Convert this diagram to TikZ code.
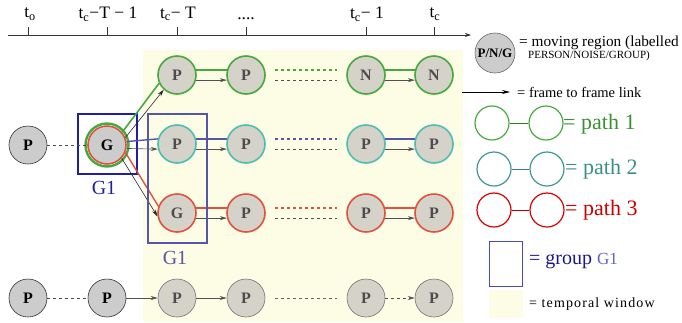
\documentclass[tikz,border=0pt]{standalone}
\usepackage{fontspec}
\setmainfont{Liberation Serif}
\usetikzlibrary{arrows.meta,calc}
\definecolor{win}{HTML}{FDFDE6}
\definecolor{ngray}{HTML}{D5D2CA}
\definecolor{pgreen}{HTML}{44AA3C}
\definecolor{pteal}{HTML}{4DBDB2}
\definecolor{pred}{HTML}{E2503E}
\definecolor{pblue}{HTML}{5555AA}
\definecolor{dblue}{HTML}{1E1EAA}
\definecolor{lnk}{HTML}{505050}
\begin{document}
\begin{tikzpicture}[x=1pt,y=-1pt,
  rn/.style={circle, minimum size=38pt, inner sep=0pt, fill=ngray, line width=1.6pt, font=\fontsize{16}{16}\selectfont\bfseries, text=black!70},
  gn/.style={rn, draw=pgreen},
  tn/.style={rn, draw=pteal},
  redn/.style={rn, draw=pred},
  wn/.style={rn, draw=black!55, line width=0.6pt},
  on/.style={rn, fill=black!20, draw=black!80, line width=0.6pt, text=black},
  lnkarrow/.style={draw=lnk, line width=0.6pt, -{Stealth[length=7pt,width=4pt]}},
  tl/.style={font=\fontsize{17.5}{17.5}\selectfont},
  tick/.style={draw=black!80, line width=0.6pt},
  lg/.style={anchor=west, inner sep=0pt},
  legc/.style={circle, minimum size=34pt, inner sep=0pt, line width=1.2pt}
]
\useasboundingbox (0,0) rectangle (682,322);
% temporal window
\fill[win] (143,50) rectangle (463,322);
% time axis
\coordinate (ax0) at (8,35);
\coordinate (ax1) at (471,35);
\draw[black!80, line width=0.7pt, -{Stealth[length=6pt,width=4pt]}] (ax0) -- (ax1);
\foreach \x/\n in {28/a,107/b,177/c,246/d,366/e,434/f}{
  \coordinate (tk\n) at (\x,27);
  \draw[tick] (tk\n) -- (\x,35);
}
\node[tl] at (30,14) {t\textsubscript{o}};
\node[tl] at (108,14) {t\textsubscript{c}−T − 1};
\node[tl] at (178,14) {t\textsubscript{c}− T};
\node[tl] at (246,19) {....};
\node[tl] at (367,14) {t\textsubscript{c}− 1};
\node[tl] at (435,14) {t\textsubscript{c}};

% row 1 green
\node[gn] (r1a) at (177,75) {P};
\node[gn] (r1b) at (246,75) {P};
\node[gn] (r1c) at (366,75) {N};
\node[gn] (r1d) at (434,75) {N};
% row 2 teal
\node[tn] (r2a) at (177,144) {P};
\node[tn] (r2b) at (246,144) {P};
\node[tn] (r2c) at (366,144) {P};
\node[tn] (r2d) at (434,144) {P};
% row 3 red
\node[redn] (r3a) at (177,213) {G};
\node[redn] (r3b) at (246,213) {P};
\node[redn] (r3c) at (366,213) {P};
\node[redn] (r3d) at (434,213) {P};
% row 4
\node[on] (r4o) at (28,298) {P};
\node[on] (r4p) at (107,298) {P};
\node[wn] (r4a) at (177,298) {P};
\node[wn] (r4b) at (246,298) {P};
\node[wn] (r4c) at (366,298) {P};
\node[wn] (r4d) at (434,298) {P};
% left
\node[on] (pl) at (28,145) {P};
\node[redn, fill=black!20, text=black] (G) at (107,145) {G};
\draw[pgreen, line width=2.4pt] (G.center) circle (21.5);
\draw[dblue, line width=1.5pt] (78,114) rectangle (137,174);
\node[text=dblue, font=\fontsize{20}{20}\selectfont] at (104,188) {G1};
\draw[black!70, dashed, line width=0.7pt] (pl) -- (G);

% row links
\foreach \r/\c/\d in {1/pgreen/pgreen, 2/pblue/pblue, 3/pred/pred}{
  \draw[\c, line width=1.4pt] (r\r a.15) -- (r\r b.165);
  \draw[lnkarrow] (r\r a.-15) -- (r\r b.-165);
  \draw[\c, line width=1.4pt] (r\r c.15) -- (r\r d.165);
  \draw[lnkarrow] (r\r c.-15) -- (r\r d.-165);
  \draw[\d, dashed, line width=1.3pt, shorten <=10pt, shorten >=10pt] (r\r b.15) -- (r\r c.165);
  \draw[lnk, dashed, line width=0.7pt, shorten <=10pt, shorten >=10pt] (r\r b.-15) -- (r\r c.-165);
}
% from G
\draw[pgreen, line width=1.6pt] (G.40) -- (r1a.205);
\draw[lnkarrow, draw=black!85] (G.22) -- (r1a.228);
\draw[pblue, line width=1.4pt] (G.10) -- (r2a.165);
\draw[lnkarrow] (G.-10) -- (r2a.-165);
\draw[pred, line width=1.4pt] (G.-22) -- (r3a.160);
\draw[lnkarrow, draw=black!85] (G.-42) -- (r3a.190);
% group box 2
\draw[pblue, line width=1.4pt] (148,114) rectangle (207,243);
\node[text=pblue, font=\fontsize{20}{20}\selectfont] at (175,258) {G1};
% row 4 links
\draw[black!70, dashed, line width=0.7pt] (r4o) -- (r4p);
\draw[lnkarrow] (r4p) -- (r4a);
\draw[lnkarrow] (r4a) -- (r4b);
\draw[black!60, dashed, line width=0.7pt, shorten <=10pt, shorten >=10pt] (r4b) -- (r4c);
\draw[lnkarrow, dashed] (r4c) -- (r4d);

% legend
\node[circle, minimum size=40pt, inner sep=0pt, fill=black!20, draw=black!60, line width=0.6pt, font=\fontsize{13}{13}\selectfont\bfseries] (lc) at (495,53) {P/N/G};
\node[lg, font=\fontsize{15.3}{15.3}\selectfont] at (519,43) {= moving region (labelled};
\node[lg, font=\fontsize{11}{11}\selectfont] at (528,56) {PERSON/NOISE/GROUP)};
\coordinate (la1) at (462,92);
\coordinate (la2) at (510,92);
\draw[black, line width=0.7pt, -{Stealth[length=8pt,width=4pt]}] (la1) -- (la2);
\node[lg, font=\fontsize{14.5}{14.5}\selectfont] at (517,92) {= frame to frame link};

\node[legc, draw=pgreen] (g1) at (492,123) {};
\node[legc, draw=pgreen] (g2) at (546,123) {};
\draw[pgreen!70!black, line width=0.8pt] (g1) -- (g2);
\node[lg, text=pgreen!85!black, font=\fontsize{22}{22}\selectfont] at (563,124) {= path 1};

\node[legc, draw=pteal!80!black] (t1) at (494,169) {};
\node[legc, draw=pteal!80!black] (t2) at (547,169) {};
\draw[pteal!70!black, line width=0.8pt] (t1) -- (t2);
\node[lg, text=pteal!75!black, font=\fontsize{22}{22}\selectfont] at (565,169) {= path 2};

\node[legc, draw=red!85!black] (p1) at (494,210) {};
\node[legc, draw=red!85!black] (p2) at (547,210) {};
\draw[red!70!black, line width=0.8pt] (p1) -- (p2);
\node[lg, text=red!80!black, font=\fontsize{22}{22}\selectfont] at (565,210) {= path 3};

\draw[dblue!80, line width=1pt] (489,241) rectangle (522,286);
\node[lg, text=dblue!80!black, font=\fontsize{20}{20}\selectfont] at (529,261) {= group {\fontsize{17}{17}\selectfont\color{dblue!70}G1}};

\fill[win] (489,290) rectangle (523,318);
\node[lg, font=\fontsize{14}{14}\selectfont\addfontfeature{LetterSpace=8}] at (529,304) {= temporal window};
\end{tikzpicture}
\end{document}
